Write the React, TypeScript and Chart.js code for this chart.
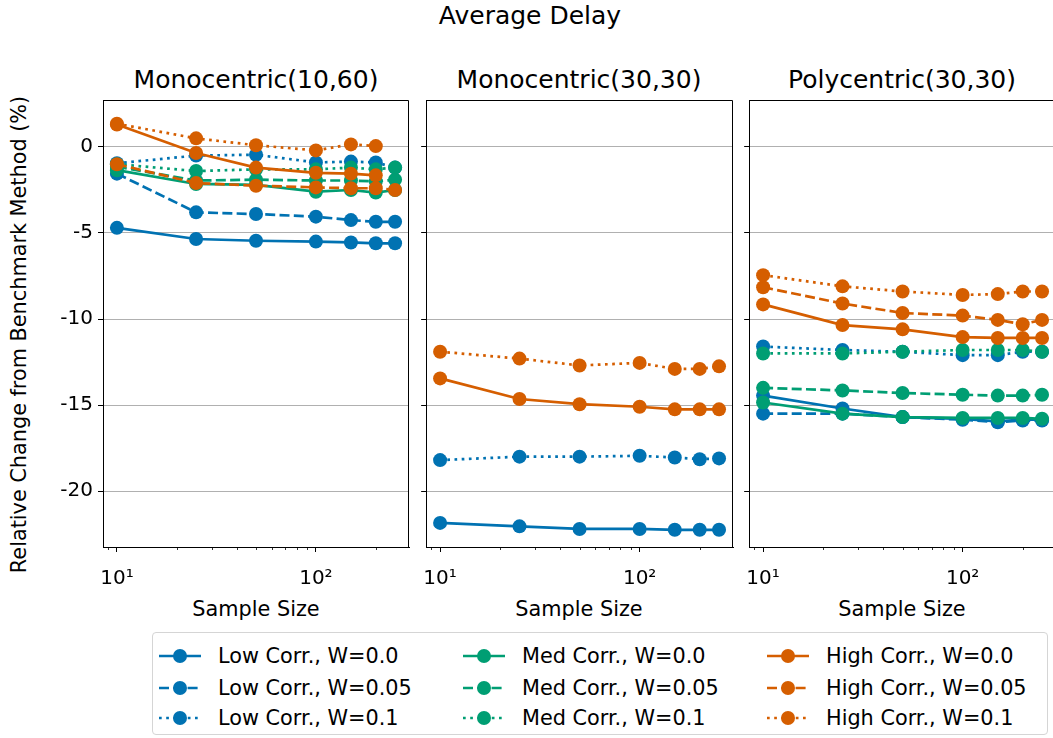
import React, { useEffect, useRef } from 'react';
import { Chart, registerables } from 'chart.js';
Chart.register(...registerables);

const FONT = "'DejaVu Sans', sans-serif";

// ---------- data ----------
const sampleSizes = [10, 25, 50, 100, 150, 200, 250];
const seriesNames = [
  'Low Corr., W=0.0', 'Low Corr., W=0.05', 'Low Corr., W=0.1',
  'Med Corr., W=0.0', 'Med Corr., W=0.05', 'Med Corr., W=0.1',
  'High Corr., W=0.0', 'High Corr., W=0.05', 'High Corr., W=0.1',
];
const panelTitles = ['Monocentric(10,60)', 'Monocentric(30,30)', 'Polycentric(30,30)'];
const yTickValues = [-20, -15, -10, -5, 0];
const xMajorTicks = [10, 100];
const xMinorTicks = [9, 20, 30, 40, 50, 60, 70, 80, 90, 200];

// Monocentric(10,60)
const m1060LowW00 = [-4.7, -5.35, -5.45, -5.5, -5.55, -5.6, -5.6];
const m1060LowW005 = [-1.55, -3.8, -3.9, -4.05, -4.25, -4.35, -4.35];
const m1060LowW01 = [-0.95, -0.5, -0.45, -0.9, -0.85, -0.9, -1.2];
const m1060MedW00 = [-1.35, -2.15, -2.2, -2.6, -2.5, -2.65, -2.5];
const m1060MedW005 = [-1.15, -1.95, -1.9, -1.95, -1.95, -2.0, -1.9];
const m1060MedW01 = [-1.0, -1.4, -1.3, -1.3, -1.2, -1.3, -1.2];
const m1060HighW00 = [1.3, -0.35, -1.2, -1.5, -1.55, -1.65, null];
const m1060HighW005 = [-1.0, -2.1, -2.25, -2.35, -2.4, -2.4, -2.5];
const m1060HighW01 = [1.35, 0.5, 0.1, -0.2, 0.15, 0.05, null];

// Monocentric(30,30)
const m3030LowW00 = [-21.85, -22.05, -22.2, -22.2, -22.25, -22.25, -22.25];
const m3030LowW005 = [null, null, null, null, null, null, null];
const m3030LowW01 = [-18.2, -18.0, -18.0, -17.95, -18.05, -18.15, -18.1];
const m3030MedW00 = [null, null, null, null, null, null, null];
const m3030MedW005 = [null, null, null, null, null, null, null];
const m3030MedW01 = [null, null, null, null, null, null, null];
const m3030HighW00 = [-13.45, -14.65, -14.95, -15.1, -15.25, -15.25, -15.25];
const m3030HighW005 = [null, null, null, null, null, null, null];
const m3030HighW01 = [-11.9, -12.3, -12.7, -12.55, -12.9, -12.9, -12.75];

// Polycentric(30,30)
const p3030LowW00 = [-14.45, -15.2, -15.7, -15.8, -15.95, -15.85, -15.85];
const p3030LowW005 = [-15.5, -15.5, -15.7, -15.85, -16.0, -15.9, -15.9];
const p3030LowW01 = [-11.6, -11.8, -11.9, -12.1, -12.1, -11.9, -11.9];
const p3030MedW00 = [-14.85, -15.5, -15.7, -15.75, -15.75, -15.75, -15.8];
const p3030MedW005 = [-14.0, -14.15, -14.3, -14.4, -14.45, -14.45, -14.4];
const p3030MedW01 = [-12.0, -12.0, -11.9, -11.8, -11.8, -11.8, -11.9];
const p3030HighW00 = [-9.15, -10.35, -10.6, -11.05, -11.1, -11.1, -11.1];
const p3030HighW005 = [-8.15, -9.1, -9.65, -9.8, -10.05, -10.3, -10.05];
const p3030HighW01 = [-7.45, -8.1, -8.4, -8.6, -8.55, -8.4, -8.4];

const panelSeries = [
  [m1060LowW00, m1060LowW005, m1060LowW01, m1060MedW00, m1060MedW005, m1060MedW01, m1060HighW00, m1060HighW005, m1060HighW01],
  [m3030LowW00, m3030LowW005, m3030LowW01, m3030MedW00, m3030MedW005, m3030MedW01, m3030HighW00, m3030HighW005, m3030HighW01],
  [p3030LowW00, p3030LowW005, p3030LowW01, p3030MedW00, p3030MedW005, p3030MedW01, p3030HighW00, p3030HighW005, p3030HighW01],
];

// ---------- styles ----------
const BLUE = '#0072B2';
const GREEN = '#009E73';
const ORANGE = '#D55E00';
const seriesColors = [BLUE, BLUE, BLUE, GREEN, GREEN, GREEN, ORANGE, ORANGE, ORANGE];
const LW = 2.7;
const DASH_SOLID: number[] = [];
const DASH_DASHED = [10, 4.3];
const DASH_DOTTED = [2.7, 4.5];
const seriesDash = [DASH_SOLID, DASH_DASHED, DASH_DOTTED, DASH_SOLID, DASH_DASHED, DASH_DOTTED, DASH_SOLID, DASH_DASHED, DASH_DOTTED];
const MARKER_R = 7;

const TICK_FONT = 20;
const LABEL_FONT = 20.8;
const TITLE_FONT = 25;
const LEGEND_FONT = 20.8;

const PLOT_TOP = 100;
const PLOT_BOTTOM = 547;
const PANEL_W = 306;
const panelLefts = [103, 426, 749];
const X_MIN = 8.513;
const X_MAX = 293.7;
const Y_MIN = -23.25;
const Y_MAX = 2.73;
const PAD_RIGHT = 4;
const X_AXIS_H = 50;

const framePlugin = {
  id: 'frame',
  afterDraw(chart: any) {
    const { ctx, chartArea } = chart;
    const xs = chart.scales.x;
    ctx.save();
    ctx.strokeStyle = '#000';
    ctx.lineWidth = 1;
    ctx.beginPath();
    ctx.rect(Math.round(chartArea.left) + 0.5, Math.round(chartArea.top) + 0.5,
      Math.round(chartArea.right - chartArea.left) - 1, Math.round(chartArea.bottom - chartArea.top));
    ctx.stroke();
    ctx.lineWidth = 0.8;
    xMinorTicks.forEach((v) => {
      const px = Math.round(xs.getPixelForValue(v)) + 0.5;
      ctx.beginPath();
      ctx.moveTo(px, chartArea.bottom);
      ctx.lineTo(px, chartArea.bottom + 3);
      ctx.stroke();
    });
    ctx.restore();
  },
};

function makeConfig(index: number, yAxisW: number): any {
  const showY = index === 0;
  const datasets = panelSeries[index].map((vals, i) => ({
    label: seriesNames[i],
    data: sampleSizes.map((x, j) => ({ x, y: vals[j] })),
    borderColor: seriesColors[i],
    backgroundColor: seriesColors[i],
    pointBackgroundColor: seriesColors[i],
    pointBorderColor: seriesColors[i],
    pointBorderWidth: 0,
    pointRadius: MARKER_R,
    borderWidth: LW,
    borderDash: seriesDash[i],
    borderCapStyle: 'butt',
    tension: 0,
    spanGaps: false,
    order: -i,
  }));
  return {
    type: 'line',
    data: { datasets },
    options: {
      animation: false,
      responsive: false,
      maintainAspectRatio: false,
      devicePixelRatio: 1,
      events: [],
      layout: { autoPadding: false, padding: { top: 0, right: PAD_RIGHT, left: 0, bottom: 0 } },
      plugins: { legend: { display: false }, tooltip: { enabled: false }, title: { display: false } },
      scales: {
        x: {
          type: 'logarithmic',
          min: X_MIN,
          max: X_MAX,
          afterFit: (s: any) => { s.height = X_AXIS_H; },
          afterBuildTicks: (s: any) => { s.ticks = xMajorTicks.map((v) => ({ value: v })); },
          ticks: {
            autoSkip: false,
            maxRotation: 0,
            color: '#000',
            padding: 15,
            font: { family: FONT, size: TICK_FONT },
            callback: (v: any) => (v === 10 ? '10¹' : v === 100 ? '10²' : ''),
          },
          grid: { display: true, drawOnChartArea: false, drawTicks: true, tickLength: 5, tickColor: '#000', tickWidth: 1 },
          border: { display: true, color: '#000', width: 1 },
        },
        y: {
          type: 'linear',
          min: Y_MIN,
          max: Y_MAX,
          afterFit: (s: any) => { s.width = yAxisW; },
          afterBuildTicks: (s: any) => { s.ticks = yTickValues.map((v) => ({ value: v })); },
          ticks: {
            color: '#000',
            padding: 5,
            font: { family: FONT, size: TICK_FONT },
            callback: (v: any) => (showY ? String(v) : ''),
          },
          grid: { color: '#b0b0b0', lineWidth: 1, drawTicks: true, tickLength: 5, tickColor: '#000', tickWidth: 1 },
          border: { display: true, color: '#000', width: 1 },
        },
      },
    },
    plugins: [framePlugin],
  };
}

function Panel({ index }: { index: number }) {
  const ref = useRef<HTMLCanvasElement>(null);
  const yAxisW = index === 0 ? 70 : 8;
  const width = yAxisW + PANEL_W + PAD_RIGHT;
  const height = 8 + (PLOT_BOTTOM - PLOT_TOP) + X_AXIS_H;

  useEffect(() => {
    const canvas = ref.current as HTMLCanvasElement;
    canvas.width = width;
    canvas.height = height;
    let chart = new Chart(canvas, makeConfig(index, yAxisW));
    let ca = chart.chartArea;
    const w2 = Math.round(width + PANEL_W - (ca.right - ca.left));
    const h2 = Math.round(height + (PLOT_BOTTOM - PLOT_TOP) - (ca.bottom - ca.top));
    chart.destroy();
    canvas.width = w2;
    canvas.height = h2;
    chart = new Chart(canvas, makeConfig(index, yAxisW));
    ca = chart.chartArea;
    canvas.style.left = `${panelLefts[index] - Math.round(ca.left)}px`;
    canvas.style.top = `${PLOT_TOP - Math.round(ca.top)}px`;
    return () => chart.destroy();
  }, []);

  return (
    <canvas
      ref={ref}
      width={width}
      height={height}
      style={{ position: 'absolute', left: panelLefts[index] - yAxisW, top: PLOT_TOP - 8 }}
    />
  );
}

function LegendHandle({ color, dash }: { color: string; dash: number[] }) {
  const ref = useRef<HTMLCanvasElement>(null);
  useEffect(() => {
    const c = ref.current as HTMLCanvasElement;
    const ctx = c.getContext('2d') as CanvasRenderingContext2D;
    ctx.clearRect(0, 0, c.width, c.height);
    ctx.strokeStyle = color;
    ctx.lineWidth = LW;
    ctx.lineCap = 'butt';
    ctx.setLineDash(dash);
    ctx.beginPath();
    ctx.moveTo(0, 10);
    ctx.lineTo(42, 10);
    ctx.stroke();
    ctx.setLineDash([]);
    ctx.fillStyle = color;
    ctx.beginPath();
    ctx.arc(21, 10, MARKER_R, 0, Math.PI * 2);
    ctx.fill();
  }, []);
  return <canvas ref={ref} width={42} height={20} style={{ position: 'absolute', left: 0, top: -10 }} />;
}

const legendColLefts = [6, 310, 614];
const legendRowTops = [23, 55, 85];

export default function App() {
  return (
    <div style={{ position: 'absolute', left: 0, top: 0, width: 1053, height: 738, overflow: 'hidden', background: '#fff', fontFamily: FONT, color: '#000' }}>
      <div style={{ position: 'absolute', left: 0, width: 1060, top: 16 - TITLE_FONT * 0.6, textAlign: 'center', fontSize: TITLE_FONT, lineHeight: `${TITLE_FONT * 1.2}px` }}>
        Average Delay
      </div>
      {panelTitles.map((t, i) => (
        <div key={t} style={{ position: 'absolute', left: panelLefts[i], width: PANEL_W, top: 80 - TITLE_FONT * 0.6, textAlign: 'center', fontSize: TITLE_FONT, lineHeight: `${TITLE_FONT * 1.2}px`, whiteSpace: 'nowrap' }}>
          {t}
        </div>
      ))}
      {panelTitles.map((t, i) => (
        <div key={'xl' + t} style={{ position: 'absolute', left: panelLefts[i], width: PANEL_W, top: 609 - LABEL_FONT * 0.6, textAlign: 'center', fontSize: LABEL_FONT, lineHeight: `${LABEL_FONT * 1.2}px`, whiteSpace: 'nowrap' }}>
          Sample Size
        </div>
      ))}
      <div style={{ position: 'absolute', left: 19 - 300, top: 334 - LABEL_FONT * 0.6, width: 600, textAlign: 'center', fontSize: LABEL_FONT, lineHeight: `${LABEL_FONT * 1.2}px`, transform: 'rotate(-90deg)', whiteSpace: 'nowrap' }}>
        Relative Change from Benchmark Method (%)
      </div>
      <Panel index={0} />
      <Panel index={1} />
      <Panel index={2} />
      <div style={{ position: 'absolute', left: 152, top: 632, width: 894, height: 101, border: '1px solid #d5d5d5', borderRadius: 4, background: '#fff' }}>
        {seriesNames.map((name, i) => {
          const col = Math.floor(i / 3);
          const row = i % 3;
          return (
            <div key={name} style={{ position: 'absolute', left: legendColLefts[col], top: legendRowTops[row] }}>
              <LegendHandle color={seriesColors[i]} dash={seriesDash[i]} />
              <div style={{ position: 'absolute', left: 59, top: -LEGEND_FONT * 0.6, fontSize: LEGEND_FONT, lineHeight: `${LEGEND_FONT * 1.2}px`, whiteSpace: 'nowrap' }}>
                {name}
              </div>
            </div>
          );
        })}
      </div>
    </div>
  );
}
